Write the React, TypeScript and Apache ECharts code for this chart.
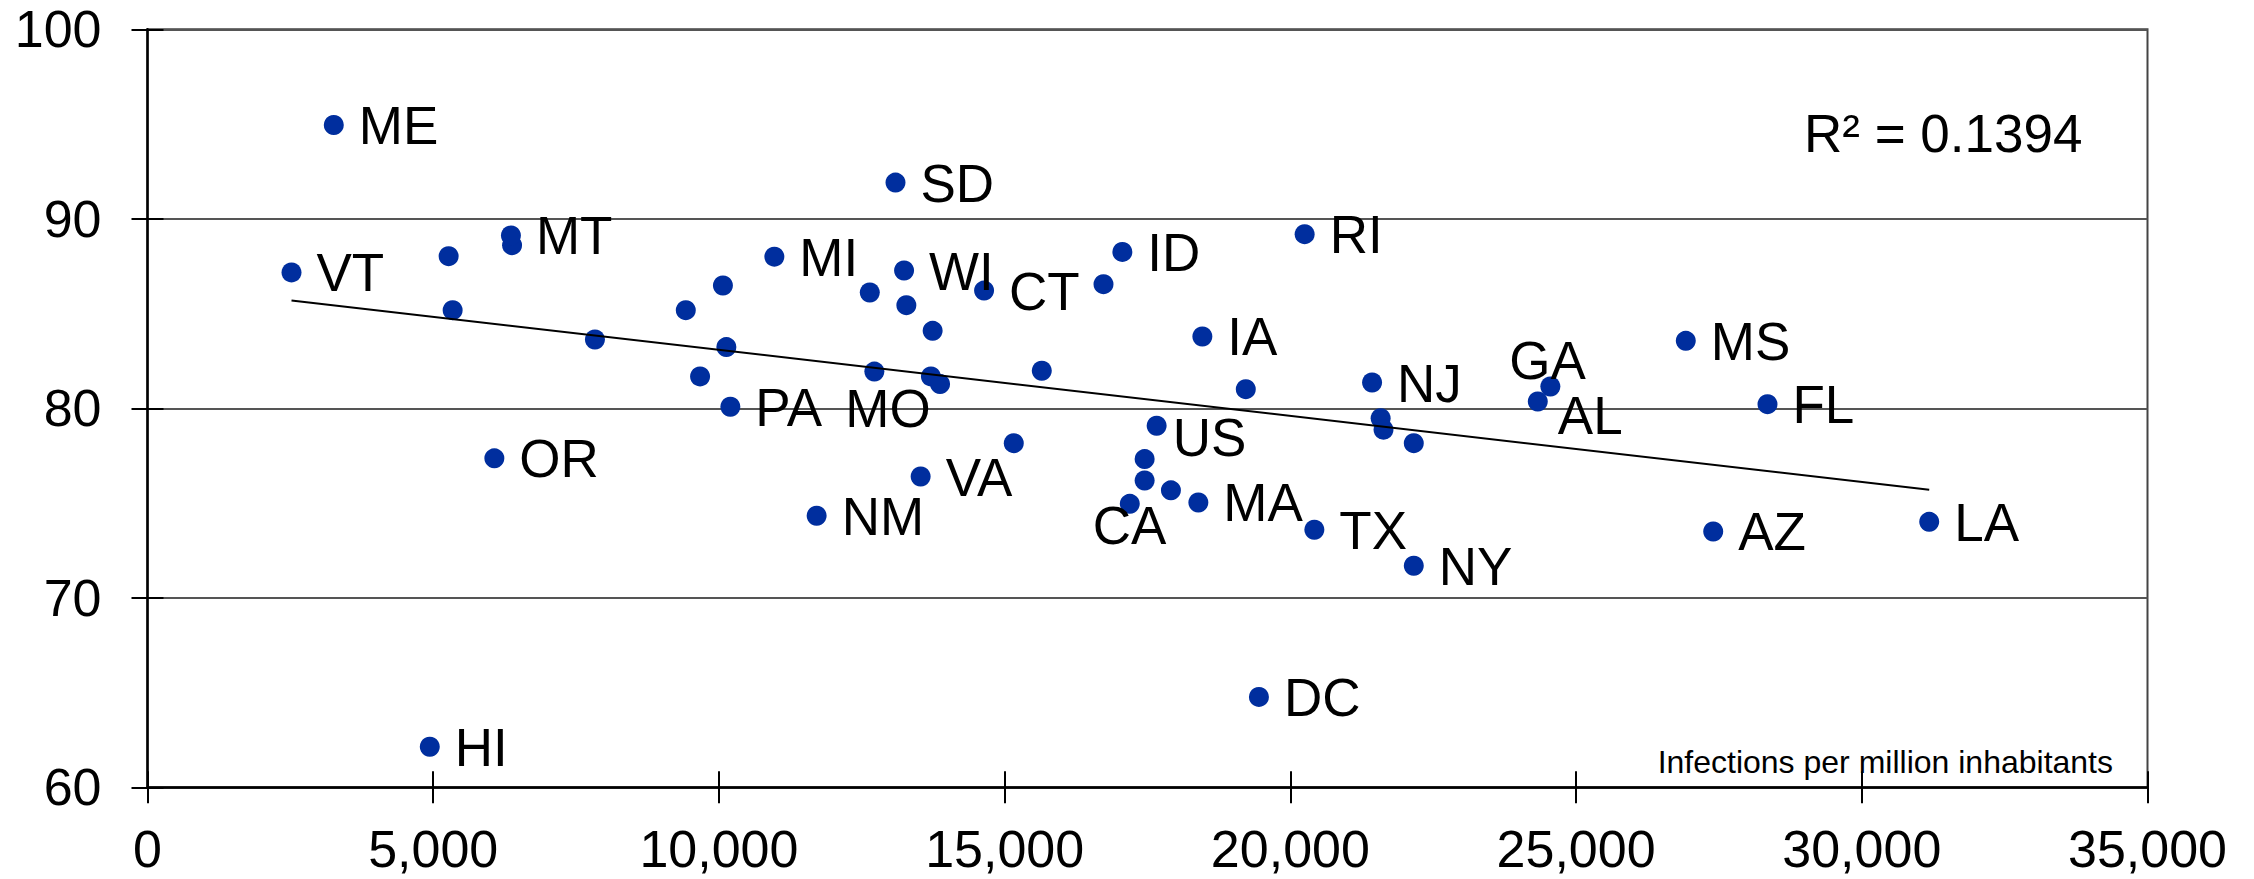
import React, { useEffect, useRef } from "react";
import * as echarts from "echarts";

// Labelled points (states / DC / US)
const stateCodes = ["ME","VT","MT","OR","HI","SD","MI","WI","CT","ID","RI","IA","PA","MO","NJ","US","VA","NM","CA","MA","TX","NY","DC","MS","GA","AL","FL","AZ","LA"];
const stateX = [3260,2520,6360,6070,4940,13090,10970,13240,14640,17060,20250,18460,10200,12720,21430,17660,13530,11710,17190,18390,20420,22160,19450,26920,24550,24330,28350,27400,31180];
const stateY = [94.95,87.17,89.12,77.36,62.14,91.91,88.0,87.27,86.21,88.25,89.19,83.79,80.08,81.94,81.36,79.08,76.40,74.33,74.96,75.03,73.59,71.69,64.77,83.56,81.15,80.36,80.22,73.50,74.01];

// Unlabelled points
const otherX = [5270,6380,5340,7830,9420,9670,10070,12640,13280,16730,13740,10130,13710,13870,15650,19220,21580,21630,22160,15160,17450,17450,17910];
const otherY = [88.03,88.61,85.18,83.63,85.18,81.68,86.48,86.11,85.44,86.55,84.09,83.23,81.68,81.28,81.98,81.01,79.48,78.87,78.16,78.16,77.32,76.19,75.67];

// Linear trend line end points
const trendX = [2520, 31180];
const trendY = [85.69, 75.70];

const rSquaredText = "R\u00B2 = 0.1394";
const axisTitle = "Infections per million inhabitants";

// Label layout (offsets of the label's left/middle from the dot centre, pixels)
const defaultOffset = [25, 0.5];
const labelOffsets: Record<string, number[]> = {
  MO: [-29, 37],
  GA: [-41, -26],
  AL: [20, 14],
  US: [16, 11.5],
  CA: [-37, 22],
};

const FONT = "Liberation Sans, Arial, Helvetica, sans-serif";
const DOT = "#002E9E";

export default function App() {
  const ref = useRef<HTMLDivElement>(null);
  useEffect(() => {
    if (!ref.current) return;
    const chart = echarts.init(ref.current, null, { renderer: "svg" });

    const labeledData = stateCodes.map((c, i) => ({
      name: c,
      value: [stateX[i], stateY[i]],
    }));
    const otherData = otherX.map((x, i) => [x, otherY[i]]);
    const trendData = trendX.map((x, i) => [x, trendY[i]]);

    const tickLabelStyle = {
      fontSize: 52,
      color: "#000",
      fontFamily: FONT,
    };

    chart.setOption({
      animation: false,
      backgroundColor: "#fff",
      grid: {
        left: 147.5,
        right: 106.5,
        top: 29.3,
        bottom: 91.7,
        show: true,
        borderColor: "#444",
        borderWidth: 2,
        backgroundColor: "transparent",
      },
      xAxis: [
        {
          type: "value",
          min: 0,
          max: 35000,
          interval: 5000,
          position: "bottom",
          axisLine: { show: true, lineStyle: { color: "#000", width: 2.5 } },
          axisTick: { show: true, inside: false, length: 16, lineStyle: { color: "#000", width: 2 } },
          axisLabel: {
            ...tickLabelStyle,
            margin: 36,
            formatter: (v: number) => v.toLocaleString("en-US"),
          },
          splitLine: { show: false },
        },
        {
          type: "value",
          min: 0,
          max: 35000,
          interval: 5000,
          position: "bottom",
          offset: 0,
          axisLine: { show: false },
          axisTick: { show: true, inside: true, length: 16, lineStyle: { color: "#000", width: 2 } },
          axisLabel: { show: false },
          splitLine: { show: false },
        },
      ],
      yAxis: [
        {
          type: "value",
          min: 60,
          max: 100,
          interval: 10,
          position: "left",
          axisLine: { show: true, lineStyle: { color: "#000", width: 2.5 } },
          axisTick: { show: true, inside: false, length: 16, lineStyle: { color: "#000", width: 2 } },
          axisLabel: { ...tickLabelStyle, margin: 46 },
          splitLine: { show: true, lineStyle: { color: "#555", width: 2 } },
        },
        {
          type: "value",
          min: 60,
          max: 100,
          interval: 10,
          position: "left",
          offset: 0,
          axisLine: { show: false },
          axisTick: { show: true, inside: true, length: 16, lineStyle: { color: "#000", width: 2 } },
          axisLabel: { show: false },
          splitLine: { show: false },
        },
      ],
      series: [
        {
          type: "scatter",
          xAxisIndex: 0,
          yAxisIndex: 0,
          symbol: "circle",
          symbolSize: 20,
          itemStyle: { color: DOT, opacity: 1 },
          data: otherData,
          z: 3,
        },
        {
          type: "scatter",
          xAxisIndex: 0,
          yAxisIndex: 0,
          symbol: "circle",
          symbolSize: 20,
          itemStyle: { color: DOT, opacity: 1 },
          label: {
            show: true,
            position: "inside",
            align: "left",
            verticalAlign: "middle",
            formatter: "{b}",
            fontSize: 53,
            color: "#000",
            fontFamily: FONT,
          },
          labelLayout: (params: any) => {
            const code = stateCodes[params.dataIndex];
            const off = labelOffsets[code] || defaultOffset;
            return { dx: off[0], dy: off[1], hideOverlap: false };
          },
          data: labeledData,
          z: 3,
        },
        {
          type: "line",
          xAxisIndex: 0,
          yAxisIndex: 0,
          data: trendData,
          symbol: "none",
          lineStyle: { color: "#000", width: 2 },
          z: 4,
          silent: true,
        },
      ],
      graphic: [
        {
          type: "text",
          x: 1804,
          y: 133,
          style: {
            text: rSquaredText,
            fontSize: 53,
            fontFamily: FONT,
            fill: "#000",
            textAlign: "left",
            textVerticalAlign: "middle",
          },
          z: 10,
        },
        {
          type: "text",
          x: 2113,
          y: 761.5,
          style: {
            text: axisTitle,
            fontSize: 32,
            fontFamily: FONT,
            fill: "#000",
            textAlign: "right",
            textVerticalAlign: "middle",
          },
          z: 10,
        },
      ],
    });

    return () => chart.dispose();
  }, []);

  return (
    <div
      ref={ref}
      style={{ position: "absolute", left: 0, top: 0, width: 2254, height: 879 }}
    />
  );
}
